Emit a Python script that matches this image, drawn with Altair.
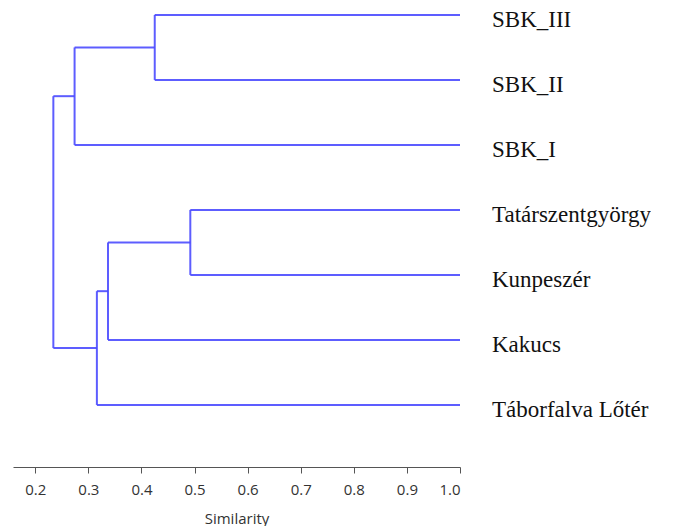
import altair as alt
import pandas as pd

# Leaves in display order (top to bottom)
leaves = ["SBK_III", "SBK_II", "SBK_I", "Tatárszentgyörgy", "Kunpeszér", "Kakucs", "Táborfalva Lőtér"]
# Merges (scipy-style node ids: leaves 0..6, new nodes 7..)
merge_left = [0, 7, 3, 9, 10, 8]
merge_right = [1, 2, 4, 5, 6, 11]
merge_sim = [0.425, 0.274, 0.492, 0.337, 0.316, 0.234]
tick_values = [0.2, 0.3, 0.4, 0.5, 0.6, 0.7, 0.8, 0.9, 1.0]

# Build dendrogram geometry from the merge table
n = len(leaves)
ypos = {i: float(i) for i in range(n)}
xpos = {i: 1.0 for i in range(n)}
segs = []
for k, (a, b, s) in enumerate(zip(merge_left, merge_right, merge_sim)):
    node = n + k
    for c in (a, b):
        segs.append({"x": xpos[c], "x2": s, "y": ypos[c], "y2": ypos[c]})
    segs.append({"x": s, "x2": s, "y": ypos[a], "y2": ypos[b]})
    xpos[node] = s
    ypos[node] = (ypos[a] + ypos[b]) / 2

seg_df = pd.DataFrame(segs)
lab_df = pd.DataFrame({"name": leaves, "y": [float(i) for i in range(n)], "x": [1.0] * n})

xscale = alt.Scale(domain=[0.158, 1.0], nice=False, zero=False)
yscale = alt.Scale(domain=[-0.045, 6.955], nice=False, zero=False, reverse=True)

rules = alt.Chart(seg_df).mark_rule(color="#4b4bff", strokeWidth=2, opacity=0.9).encode(
    x=alt.X("x:Q", scale=xscale,
            axis=alt.Axis(title="Similarity", values=tick_values, format=".1f", grid=False,
                          domainColor="#555555", tickColor="#555555", tickSize=6,
                          labelColor="#333333", labelFont="Open Sans", labelFontSize=15,
                          labelPadding=9, titleFont="Open Sans", titleFontSize=15,
                          titleFontWeight="normal", titleColor="#333333", titlePadding=14)),
    x2="x2:Q",
    y=alt.Y("y:Q", scale=yscale, axis=None),
    y2="y2:Q",
)

labels = alt.Chart(lab_df).mark_text(
    align="left", baseline="middle", dx=32, dy=5,
    font="Liberation Serif", fontSize=23, color="#111111"
).encode(
    x=alt.X("x:Q", scale=xscale),
    y=alt.Y("y:Q", scale=yscale),
    text="name:N",
)

chart = alt.layer(rules, labels).properties(
    width=447, height=455,
    padding={"top": 0, "bottom": 0, "left": 5, "right": 0},
).configure_view(stroke=None)

chart.save("out.html", embed_options={"renderer": "svg", "actions": False})
